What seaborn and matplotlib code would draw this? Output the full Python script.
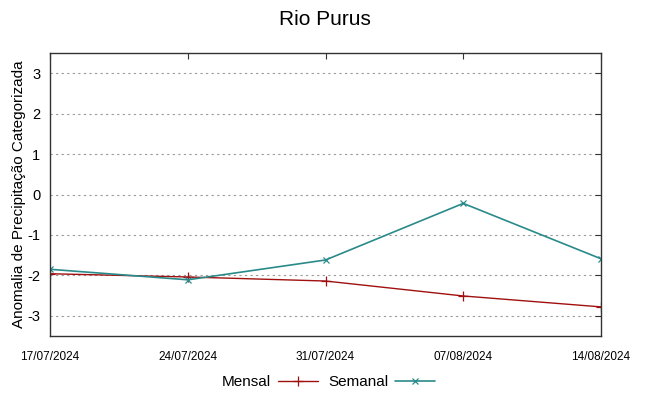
import matplotlib
matplotlib.use("Agg")
import matplotlib.pyplot as plt
import matplotlib.dates as mdates
import pandas as pd
import seaborn as sns

dates = ["2024-07-17", "2024-07-24", "2024-07-31", "2024-08-07", "2024-08-14"]
mensal = [-1.96, -2.04, -2.14, -2.51, -2.78]
semanal = [-1.85, -2.11, -1.62, -0.22, -1.59]

df = pd.DataFrame({"data": pd.to_datetime(dates), "Mensal": mensal, "Semanal": semanal})

sns.set_theme(style="white")
plt.rcParams["font.family"] = ["Liberation Sans", "DejaVu Sans"]
plt.rcParams["axes.unicode_minus"] = False

fig = plt.figure(figsize=(6.49, 3.96), dpi=100)
ax = fig.add_axes([50 / 649, 1 - 336 / 396, 551 / 649, 283 / 396])

red = "#a01010"
teal = "#2a8a8a"
sns.lineplot(data=df, x="data", y="Mensal", ax=ax, color=red, marker="+",
             markersize=7, markeredgewidth=0.9, markeredgecolor=red, linewidth=1, label="Mensal")
sns.lineplot(data=df, x="data", y="Semanal", ax=ax, color=teal, marker="x",
             markersize=5, markeredgewidth=0.9, markeredgecolor=teal, linewidth=1.2, label="Semanal")

ax.set_xlim(df["data"].iloc[0], df["data"].iloc[-1])
ax.set_ylim(-3.5, 3.5)
ax.set_xticks(df["data"])
ax.xaxis.set_major_formatter(mdates.DateFormatter("%d/%m/%Y"))
ax.set_yticks([-3, -2, -1, 0, 1, 2, 3])
ax.tick_params(axis="x", labelsize=8.5, direction="in", top=True, length=4, width=0.8,
               pad=11, colors="#333333", labelcolor="black")
ax.tick_params(axis="y", labelsize=10.5, direction="in", right=True, length=4, width=0.8,
               pad=7, colors="#333333", labelcolor="black")
ax.yaxis.grid(True, linestyle=(0, (2, 3)), color="#999999", linewidth=0.8)
for s in ax.spines.values():
    s.set_color("#333333")
    s.set_linewidth(1)

ax.set_xlabel("")
ax.set_ylabel("Anomalia de Precipitação Categorizada", fontsize=11, labelpad=1, color="black")
fig.suptitle("Rio Purus", fontsize=15, y=0.975, color="black")

handles, labels = ax.get_legend_handles_labels()
ax.get_legend().remove()
fig.legend(handles, labels, loc="center", bbox_to_anchor=(0.506, 1 - 382 / 396), ncol=2,
           markerfirst=False, frameon=False, fontsize=11, handlelength=2.6,
           columnspacing=0.7, handletextpad=0.45, labelcolor="black")

fig.savefig("out.png", dpi=100)
